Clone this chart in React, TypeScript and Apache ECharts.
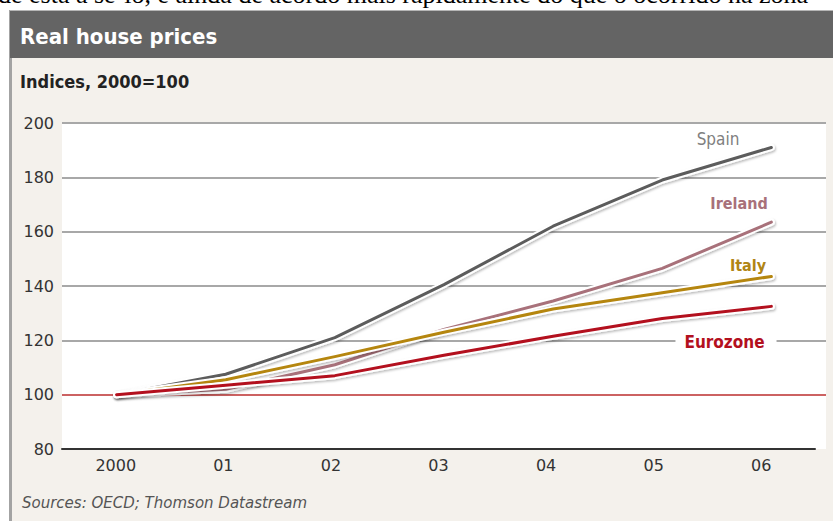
import React, { useEffect, useRef } from "react";
import * as echarts from "echarts";

const years = [2000, 2001, 2002, 2003, 2004, 2005, 2006];
const xTickLabels = ["2000", "01", "02", "03", "04", "05", "06"];
const spain = [100, 107.5, 121, 140.5, 162, 179, 191];
const ireland = [100, 102, 111, 124, 134.5, 146.5, 163.5];
const italy = [100, 105.5, 114, 123, 131.5, 137.5, 143.5];
const eurozone = [100, 103.5, 107, 114.5, 121.5, 128, 132.5];

const seriesDefs = [
  { name: "Spain", values: spain, color: "#5c5c5c" },
  { name: "Ireland", values: ireland, color: "#a8717a" },
  { name: "Italy", values: italy, color: "#b5860f" },
  { name: "Eurozone", values: eurozone, color: "#b3101e" },
];

const FONT = "'DejaVu Sans', sans-serif";
const FONT_C = "'DejaVu Sans Condensed', 'DejaVu Sans', sans-serif";

export default function App() {
  const ref = useRef<HTMLDivElement>(null);
  useEffect(() => {
    if (!ref.current) return;
    const chart = echarts.init(ref.current, undefined, { renderer: "svg" });
    const series: any[] = [];
    seriesDefs.forEach((s) => {
      const data = years.map((y, i) => [y, s.values[i]]);
      series.push({
        type: "line",
        name: s.name + " halo",
        xAxisIndex: 2,
        yAxisIndex: 1,
        data,
        symbol: "none",
        silent: true,
        lineStyle: {
          width: 7,
          color: "#ffffff",
          shadowColor: "rgba(0,0,0,0.28)",
          shadowBlur: 2,
          shadowOffsetX: 1,
          shadowOffsetY: 1.5,
          cap: "round",
          join: "round",
        },
      });
      series.push({
        type: "line",
        name: s.name,
        xAxisIndex: 2,
        yAxisIndex: 1,
        data,
        symbol: "none",
        lineStyle: { width: 3, color: s.color, cap: "round", join: "round" },
      });
    });

    const gridColors = [
      "rgba(0,0,0,0)",
      "#cc6262",
      "#a8a8a8",
      "#a8a8a8",
      "#a8a8a8",
      "#a8a8a8",
      "#a8a8a8",
    ];

    chart.setOption({
      animation: false,
      backgroundColor: "#ffffff",
      grid: [
        {
          left: 62,
          right: 7,
          top: 123,
          bottom: 72,
          show: true,
          backgroundColor: "#ffffff",
          borderWidth: 0,
        },
        { left: 62, right: 18, top: 123, bottom: 72 },
      ],
      xAxis: [
        {
          gridIndex: 0,
          type: "value",
          min: 0,
          max: 1,
          show: false,
        },
        {
          gridIndex: 1,
          type: "category",
          data: xTickLabels,
          boundaryGap: true,
          position: "bottom",
          axisLine: { lineStyle: { color: "#333333", width: 2 } },
          axisTick: {
            inside: true,
            length: 10,
            lineStyle: { color: "#333333", width: 1.5 },
          },
          axisLabel: {
            color: "#333333",
            fontFamily: FONT,
            fontSize: 16,
            margin: 8,
          },
          splitLine: { show: false },
          z: 5,
        },
        {
          gridIndex: 1,
          type: "value",
          position: "top",
          min: 1999.5,
          max: 2006.4,
          show: false,
        },
      ],
      yAxis: [
        {
          gridIndex: 0,
          type: "value",
          min: 80,
          max: 200,
          interval: 20,
          axisLine: { show: false },
          axisTick: { show: false },
          axisLabel: {
            color: "#333333",
            fontFamily: FONT,
            fontSize: 16,
            margin: 8,
          },
          splitLine: {
            show: true,
            lineStyle: { color: gridColors, width: 2 },
          },
        },
        {
          gridIndex: 1,
          type: "value",
          min: 80,
          max: 200,
          show: false,
        },
      ],
      series,
      graphic: [
        {
          type: "rect",
          z: -10,
          shape: { x: 0, y: 0, width: 833, height: 521 },
          style: { fill: "#ffffff" },
        },
        {
          type: "rect",
          z: -9,
          shape: { x: 10, y: 10, width: 823, height: 511 },
          style: { fill: "#f4f1ec" },
        },
        {
          type: "rect",
          z: -8,
          shape: { x: 9, y: 10, width: 3, height: 511 },
          style: { fill: "#a3a3a3" },
        },
        {
          type: "rect",
          z: -8,
          shape: { x: 10, y: 10, width: 823, height: 48 },
          style: { fill: "#646464" },
        },
        {
          type: "rect",
          z: -7,
          shape: { x: 10, y: 10, width: 823, height: 1 },
          style: { fill: "#b5b5b5" },
        },
        {
          type: "text",
          z: 100,
          left: -2,
          top: -19,
          style: {
            text: "de está a sê-lo, e ainda de acordo mais rapidamente do que o ocorrido na zona",
            font: "26px 'Liberation Serif', serif",
            fill: "#000000",
          },
        },
        {
          type: "text",
          z: 100,
          left: 20,
          top: 25,
          style: {
            text: "Real house prices",
            font: "bold 22px " + FONT_C,
            fill: "#ffffff",
          },
        },
        {
          type: "text",
          z: 100,
          left: 20,
          top: 72,
          style: {
            text: "Indices, 2000=100",
            font: "bold 18px " + FONT_C,
            fill: "#222222",
          },
        },
        {
          type: "text",
          z: 100,
          left: 22,
          top: 495,
          style: {
            text: "Sources: OECD; Thomson Datastream",
            font: "italic 15px " + FONT,
            fill: "#555555",
          },
        },
        {
          type: "text",
          z: 100,
          x: 718,
          y: 139,
          style: {
            text: "Spain",
            font: "17px " + FONT_C,
            fill: "#808080",
            align: "center",
            verticalAlign: "middle",
          },
        },
        {
          type: "text",
          z: 100,
          x: 739,
          y: 203,
          style: {
            text: "Ireland",
            font: "bold 16px " + FONT_C,
            fill: "#a8717a",
            align: "center",
            verticalAlign: "middle",
          },
        },
        {
          type: "text",
          z: 100,
          x: 748,
          y: 265,
          style: {
            text: "Italy",
            font: "bold 16px " + FONT_C,
            fill: "#b08515",
            align: "center",
            verticalAlign: "middle",
          },
        },
        {
          type: "text",
          z: 100,
          x: 726,
          y: 342,
          style: {
            text: "Eurozone",
            font: "bold 17px " + FONT_C,
            fill: "#b3101e",
            align: "center",
            verticalAlign: "middle",
            backgroundColor: "#ffffff",
            padding: [2, 12, 2, 9],
          },
        },
      ],
    });
    return () => chart.dispose();
  }, []);
  return (
    <div
      ref={ref}
      style={{ position: "absolute", left: 0, top: 0, width: 833, height: 521 }}
    />
  );
}
